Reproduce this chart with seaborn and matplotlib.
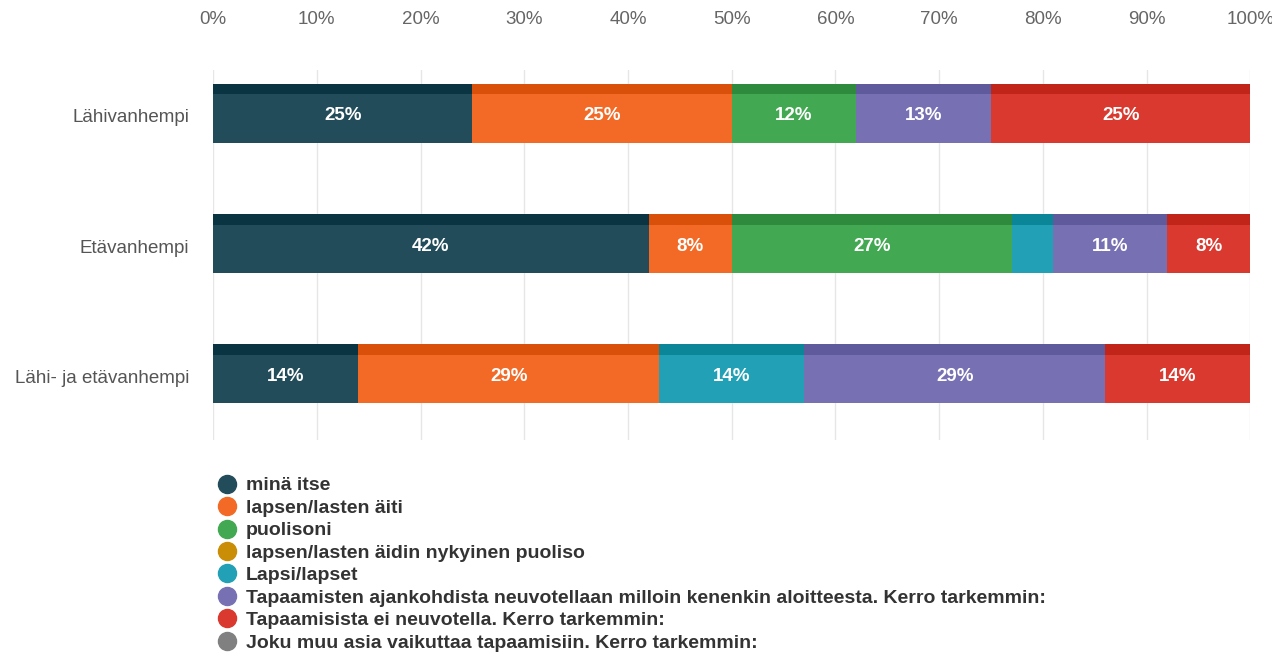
import matplotlib
matplotlib.use("Agg")
import matplotlib.pyplot as plt
import seaborn as sns
import numpy as np
import pandas as pd
from matplotlib.lines import Line2D

categories = ["Lähivanhempi", "Etävanhempi", "Lähi- ja etävanhempi"]
series_names = [
    "minä itse",
    "lapsen/lasten äiti",
    "puolisoni",
    "lapsen/lasten äidin nykyinen puoliso",
    "Lapsi/lapset",
    "Tapaamisten ajankohdista neuvotellaan milloin kenenkin aloitteesta. Kerro tarkemmin:",
    "Tapaamisista ei neuvotella. Kerro tarkemmin:",
    "Joku muu asia vaikuttaa tapaamisiin. Kerro tarkemmin:",
]
v_mina = [25, 42, 14]
v_aiti = [25, 8, 29]
v_puoliso = [12, 27, 0]
v_aidin_puoliso = [0, 0, 0]
v_lapsi = [0, 4, 14]
v_neuvotellaan = [13, 11, 29]
v_ei_neuvotella = [25, 8, 14]
v_muu = [0, 0, 0]
tick_labels = ["0%", "10%", "20%", "30%", "40%", "50%", "60%", "70%", "80%", "90%", "100%"]

front_colors = ["#234c5b", "#f26a26", "#43a852", "#c98e05", "#22a0b5", "#7771b3", "#d9392e", "#808080"]
top_colors = ["#0b3442", "#d9500b", "#2e8a3c", "#a87400", "#0b8699", "#5f5a9b", "#c1251a", "#666666"]

values = [v_mina, v_aiti, v_puoliso, v_aidin_puoliso, v_lapsi, v_neuvotellaan, v_ei_neuvotella, v_muu]

sns.set_theme(style="white")
plt.rcParams["font.family"] = ["Liberation Sans", "DejaVu Sans"]

fig = plt.figure(figsize=(12.72, 6.52), dpi=100)
ax = fig.add_axes([0.1675, 0.325, 0.8155, 0.568])

arr = np.array(values, dtype=float)
cum = np.cumsum(arr, axis=0)
starts = cum - arr

ypos = np.arange(len(categories))
front_h = 0.37
top_h = 0.08
front_center = ypos + 0.02

# top faces (darker band)
for i in range(len(values)):
    ax.barh(front_center - front_h / 2 - top_h / 2, arr[i], left=starts[i], height=top_h,
            color=top_colors[i], linewidth=0, zorder=2)

# front faces: seaborn layering of cumulative sums, last series first
for i in reversed(range(len(values))):
    df = pd.DataFrame({"cat": categories, "val": cum[i]})
    sns.barplot(data=df, x="val", y="cat", orient="h", color=front_colors[i],
                saturation=1, width=front_h, ax=ax, zorder=3, linewidth=0)

for p in ax.patches:
    if p.get_zorder() == 3:
        p.set_y(p.get_y() + 0.02)

for i in range(len(values)):
    for j in range(len(categories)):
        v = arr[i, j]
        if v >= 5:
            ax.text(starts[i, j] + v / 2, front_center[j] - 0.02, f"{int(round(v))}%",
                    ha="center", va="center", color="white", fontsize=13.5,
                    fontweight="bold", zorder=5)

ax.set_xlim(0, 100)
ax.set_ylim(2.49, -0.354)
ax.set_xticks(np.arange(0, 101, 10))
ax.set_xticklabels(tick_labels, color="#666666", fontsize=13.5)
ax.xaxis.tick_top()
ax.tick_params(axis="x", length=0, pad=30)
ax.set_yticks(ypos)
ax.set_yticklabels(categories, color="#555555", fontsize=13.5)
ax.tick_params(axis="y", length=0, pad=17)
ax.set_xlabel("")
ax.set_ylabel("")
ax.grid(axis="x", color="#e6e6e6", linewidth=1, zorder=0)
ax.set_axisbelow(True)
for s in ax.spines.values():
    s.set_visible(False)

handles = [Line2D([0], [0], marker="o", linestyle="", markersize=13,
                  markerfacecolor=c, markeredgecolor=c) for c in front_colors]
leg = fig.legend(handles, series_names, loc="upper left",
                 bbox_to_anchor=(0.164, 1 - 469 / 652), frameon=False,
                 prop={"size": 14, "weight": "bold"}, labelspacing=0.25,
                 handletextpad=0.4, handlelength=1.1, borderaxespad=0)
for t in leg.get_texts():
    t.set_color("#333333")

fig.savefig("out.png", dpi=100)
